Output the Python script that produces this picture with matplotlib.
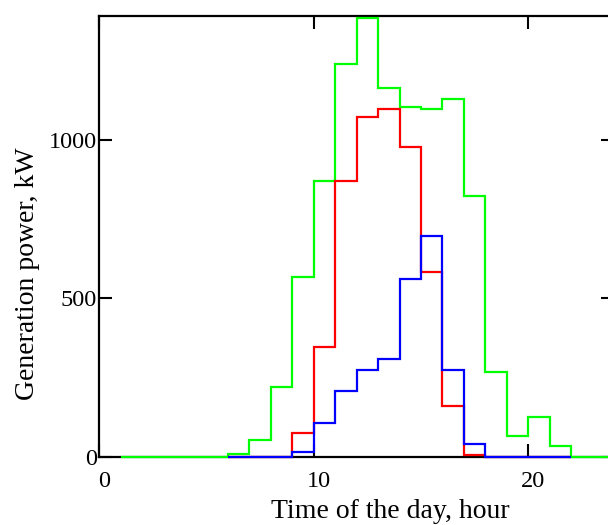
import numpy as np
import matplotlib.pyplot as plt
from matplotlib.transforms import ScaledTranslation

plt.rcParams['font.family'] = ['Liberation Serif', 'DejaVu Serif']

# granice sati (1 h koraci) i snaga po satu, kW
green_edges = np.arange(1, 25)
green_kw = [0, 0, 0, 0, 0, 10, 54, 221, 568, 871, 1240, 1385, 1164, 1104,
            1098, 1129, 823, 268, 66, 126, 35, 0, 0]

red_edges = np.arange(6, 23)
red_kw = [0, 0, 0, 76, 347, 871, 1072, 1098, 978, 584, 161, 6, 0, 0, 0, 0]

blue_edges = np.arange(6, 23)
blue_kw = [0, 0, 0, 16, 107, 208, 274, 309, 561, 697, 274, 41, 0, 0, 0, 0]

x_ticks = [0, 10, 20]
y_ticks = [0, 500, 1000]

fig = plt.figure(figsize=(6.08, 5.25), dpi=100)
ax = fig.add_axes([0.163, 0.13, 0.847, 0.84])

# linije iznad okvira, kao na originalu
for vals, edges, col in [(green_kw, green_edges, '#00ff00'),
                         (red_kw, red_edges, '#ff0000'),
                         (blue_kw, blue_edges, '#0000ff')]:
    ax.stairs(vals, edges, color=col, lw=1.6, zorder=5, clip_on=False)

ax.set_xlim(0, 24)
ax.set_ylim(0, 1392)
ax.set_xticks(x_ticks)
ax.set_yticks(y_ticks)
ax.tick_params(direction='in', length=9.5, width=1.5, labelsize=17.5,
               top=True, right=True)
ax.tick_params(axis='x', pad=10)
ax.tick_params(axis='y', pad=1.5)
for s in ax.spines.values():
    s.set_linewidth(1.6)

# oznake na x osi su malo pomaknute udesno
shift = ScaledTranslation(5 / 100, 0, fig.dpi_scale_trans)
for lab in ax.get_xticklabels():
    lab.set_transform(lab.get_transform() + shift)

ax.set_xlabel('Time of the day, hour', fontsize=20)
ax.set_ylabel('Generation power, kW', fontsize=20)
ax.xaxis.set_label_coords(0.565, -0.095)
ax.yaxis.set_label_coords(-0.115, 0.415)

fig.savefig('out.png', dpi=100)
